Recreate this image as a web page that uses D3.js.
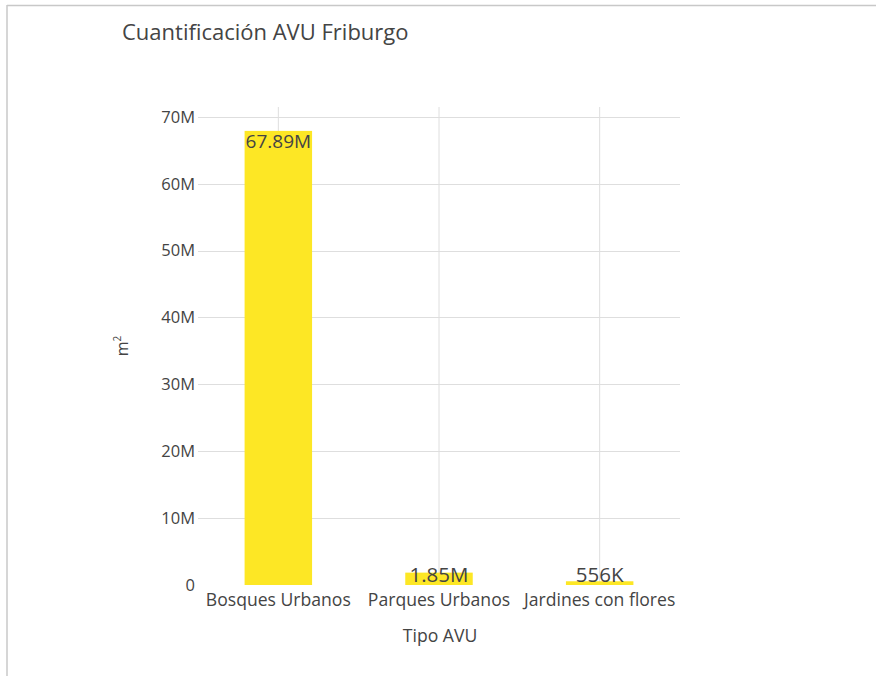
<!DOCTYPE html>
<html><head><meta charset="utf-8">
<script src="https://cdn.jsdelivr.net/npm/d3@7"></script>
<style>
html,body{margin:0;padding:0;background:#fff;}
svg{display:block;font-family:"Open Sans",sans-serif;}
</style></head>
<body>
<svg id="chart" width="876" height="676"></svg>
<script>
const categories = ["Bosques Urbanos", "Parques Urbanos", "Jardines con flores"];
const values = [67890000, 1850000, 556000];
const valueLabels = ["67.89M", "1.85M", "556K"];
const yTicks = [0, 10e6, 20e6, 30e6, 40e6, 50e6, 60e6, 70e6];
const yTickLabels = ["0", "10M", "20M", "30M", "40M", "50M", "60M", "70M"];
const titleText = "Cuantificación AVU Friburgo";
const xTitle = "Tipo AVU";

const svg = d3.select("#chart");
const W = 876, H = 676;
const m = {left: 198, right: 196, top: 107, bottom: 91};
const pw = W - m.left - m.right, ph = H - m.top - m.bottom;

// frame
svg.append("line").attr("x1",7).attr("x2",W).attr("y1",5.5).attr("y2",5.5).attr("stroke","#c8c8c8").attr("stroke-width",1.5);
svg.append("line").attr("x1",7).attr("x2",7).attr("y1",5).attr("y2",H).attr("stroke","#c8c8c8").attr("stroke-width",1.5);

const x = d3.scaleBand().domain(categories).range([m.left, m.left + pw]).paddingInner(0.58).paddingOuter(0.29);
const yMax = 67.89e6 * 1.0526;
const y = d3.scaleLinear().domain([0, yMax]).range([m.top + ph, m.top]);

const g = svg.append("g");
// vertical grid
g.selectAll(".vg").data(categories).enter().append("line")
  .attr("x1", d => x(d) + x.bandwidth()/2).attr("x2", d => x(d) + x.bandwidth()/2)
  .attr("y1", m.top).attr("y2", m.top + ph).attr("stroke", "#dedede").attr("stroke-width", 1);
// horizontal grid
g.selectAll(".hg").data(yTicks.slice(1)).enter().append("line")
  .attr("x1", m.left).attr("x2", m.left + pw)
  .attr("y1", d => Math.round(y(d)) + 0.5).attr("y2", d => Math.round(y(d)) + 0.5)
  .attr("stroke", "#dedede").attr("stroke-width", 1);

// y tick labels
g.selectAll(".yt").data(yTicks).enter().append("text")
  .attr("x", m.left - 3).attr("y", d => y(d)).attr("dy", "0.36em")
  .attr("text-anchor", "end").attr("fill", "#444").attr("font-size", 16.5)
  .text((d,i) => yTickLabels[i]);

// bars
g.selectAll(".bar").data(values).enter().append("rect")
  .attr("x", (d,i) => x(categories[i])).attr("width", x.bandwidth())
  .attr("y", d => y(d)).attr("height", d => y(0) - y(d))
  .attr("fill", "#fde725");

// bar labels
g.selectAll(".bl").data(values).enter().append("text")
  .attr("x", (d,i) => x(categories[i]) + x.bandwidth()/2)
  .attr("y", (d,i) => (y(0) - y(d)) > 30 ? y(d) + 17 : y(0) - 3.5)
  .attr("text-anchor", "middle").attr("fill", "#444")
  .attr("font-size", (d,i) => (y(0) - y(d)) > 30 ? 19 : 20.5)
  .text((d,i) => valueLabels[i]);

// x tick labels
g.selectAll(".xt").data(categories).enter().append("text")
  .attr("x", d => x(d) + x.bandwidth()/2).attr("y", y(0) + 21)
  .attr("text-anchor", "middle").attr("fill", "#444").attr("font-size", 17.6)
  .text(d => d);

// axis titles
svg.append("text").attr("x", m.left + pw/2 + 1).attr("y", 642)
  .attr("text-anchor", "middle").attr("fill", "#444").attr("font-size", 17.6).text(xTitle);
svg.append("text").attr("transform", "translate(128," + (m.top + ph/2) + ") rotate(-90)")
  .attr("text-anchor", "middle").attr("fill", "#444").attr("font-size", 16)
  .html('m<tspan baseline-shift="super" font-size="10">2</tspan>');

// title
svg.append("text").attr("x", 122).attr("y", 40).attr("fill", "#444").attr("font-size", 22).text(titleText);
</script>
</body></html>
